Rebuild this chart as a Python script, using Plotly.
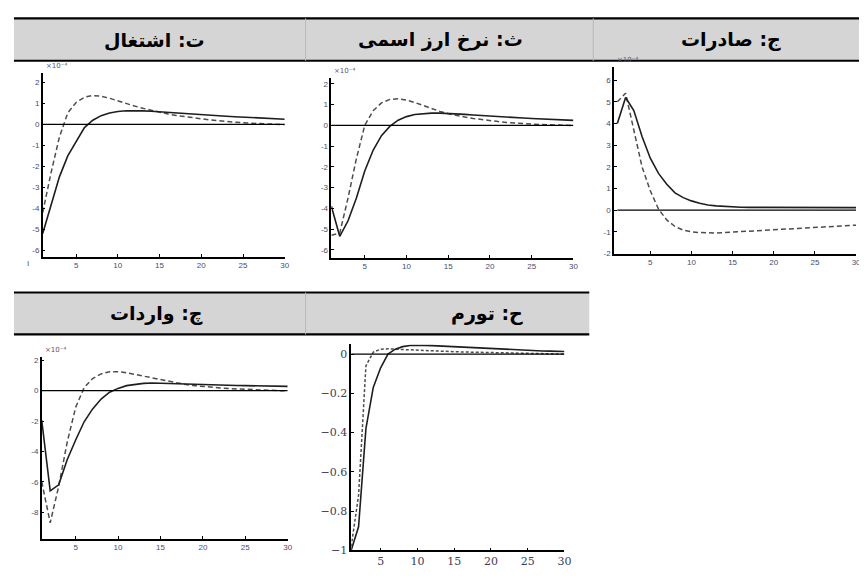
import plotly.graph_objects as go

W, H = 867, 576

# ---------------- data ----------------
periods = list(range(1, 31))

# ت: اشتغال (employment), x10^-4
emp_solid = [-5.2, -3.8, -2.5, -1.5, -0.85, -0.15, 0.2, 0.42, 0.55, 0.62, 0.65, 0.66, 0.65, 0.63, 0.6,
             0.57, 0.54, 0.51, 0.48, 0.46, 0.43, 0.41, 0.39, 0.37, 0.35, 0.33, 0.31, 0.29, 0.27, 0.25]
emp_dash = [-4.2, -2.3, -0.6, 0.55, 1.05, 1.3, 1.38, 1.35, 1.25, 1.12, 1.0, 0.88, 0.77, 0.67, 0.58,
            0.5, 0.43, 0.37, 0.32, 0.27, 0.22, 0.18, 0.14, 0.11, 0.08, 0.06, 0.04, 0.02, 0.0, -0.01]

# ث: نرخ ارز اسمی (nominal exchange rate), x10^-4
fx_solid = [-3.9, -5.35, -4.6, -3.5, -2.2, -1.2, -0.5, -0.05, 0.25, 0.42, 0.52, 0.57, 0.59, 0.59, 0.58,
            0.56, 0.53, 0.5, 0.47, 0.44, 0.42, 0.39, 0.37, 0.35, 0.33, 0.31, 0.29, 0.27, 0.25, 0.24]
fx_dash = [-5.3, -5.2, -3.5, -1.6, 0.0, 0.7, 1.08, 1.25, 1.28, 1.22, 1.1, 0.95, 0.8, 0.67, 0.56,
           0.47, 0.4, 0.33, 0.27, 0.22, 0.18, 0.14, 0.11, 0.08, 0.06, 0.04, 0.03, 0.01, 0.0, -0.01]

# ج: صادرات (exports), x10^-4
exp_solid = [4.0, 5.2, 4.6, 3.4, 2.4, 1.7, 1.2, 0.8, 0.58, 0.43, 0.32, 0.24, 0.2, 0.17, 0.15,
             0.14, 0.13, 0.13, 0.12, 0.12, 0.12, 0.12, 0.12, 0.12, 0.12, 0.12, 0.12, 0.12, 0.12, 0.12]
exp_dash = [5.0, 5.4, 3.7, 2.0, 0.9, 0.05, -0.45, -0.75, -0.92, -1.0, -1.03, -1.05, -1.05, -1.03, -1.01,
            -0.99, -0.97, -0.95, -0.93, -0.91, -0.89, -0.87, -0.85, -0.83, -0.81, -0.79, -0.77, -0.75, -0.72, -0.69]

# چ: واردات (imports), x10^-4
imp_solid = [-1.95, -6.6, -6.2, -4.55, -3.25, -2.05, -1.2, -0.55, -0.1, 0.15, 0.33, 0.42, 0.48, 0.5, 0.48,
             0.47, 0.45, 0.43, 0.41, 0.38, 0.37, 0.36, 0.35, 0.34, 0.33, 0.32, 0.31, 0.3, 0.29, 0.28]
imp_dash = [-6.0, -8.7, -6.3, -3.4, -1.1, 0.2, 0.8, 1.1, 1.25, 1.25, 1.18, 1.07, 0.95, 0.82, 0.7,
            0.58, 0.48, 0.4, 0.33, 0.27, 0.22, 0.18, 0.14, 0.11, 0.08, 0.06, 0.04, 0.02, 0.0, -0.02]

# ح: تورم (inflation)
inf_solid = [-1.0, -0.88, -0.38, -0.17, -0.07, 0.0, 0.025, 0.038, 0.044, 0.045, 0.044, 0.043, 0.041, 0.039, 0.037,
             0.035, 0.033, 0.031, 0.029, 0.027, 0.025, 0.023, 0.022, 0.02, 0.019, 0.017, 0.016, 0.015, 0.014, 0.013]
inf_dash = [-0.98, -0.72, -0.06, 0.01, 0.025, 0.027, 0.025, 0.023, 0.021, 0.019, 0.017, 0.016, 0.014, 0.013, 0.012,
            0.011, 0.01, 0.009, 0.008, 0.007, 0.006, 0.005, 0.004, 0.004, 0.003, 0.002, 0.002, 0.001, 0.0, 0.0]

titles = ["ت: اشتغال", "ث: نرخ ارز اسمی", "ج: صادرات", "چ: واردات", "ح: تورم"]

x_ticks = [5, 10, 15, 20, 25, 30]
y_ticks_emp = [-6, -5, -4, -3, -2, -1, 0, 1, 2]
y_ticks_exp = [-2, -1, 0, 1, 2, 3, 4, 5, 6]
y_ticks_imp = [-8, -6, -4, -2, 0, 2]
y_ticks_inf = [-1, -0.8, -0.6, -0.4, -0.2, 0]
y_ticktext_inf = ["−1", "−0.8", "−0.6", "−0.4", "−0.2", "0"]

# ---------------- layout helpers ----------------
def fx(p):
    return p / W

def fy(p):
    return 1 - p / H

panels = [
    # (solid, dash, x px left,right, y px top,bottom, yrange, yticks, xrange, latex-style)
    (emp_solid, emp_dash, 35, 279, 65, 251, [-6.3, 2.45], y_ticks_emp, [1, 30], False),
    (fx_solid, fx_dash, 326, 570, 70, 252, [-6.37, 2.28], y_ticks_emp, [1, 30], False),
    (exp_solid, exp_dash, 611, 855, 59, 248, [-2, 6.6], y_ticks_exp, [0.6, 30], False),
    (imp_solid, imp_dash, 34, 282, 353, 537, [-9.74, 2.21], y_ticks_imp, [1, 30], False),
    (inf_solid, inf_dash, 346, 561, 340, 549, [-1, 0.05], y_ticks_inf, [1, 30], True),
]

fig = go.Figure()
layout = dict(
    width=W, height=H,
    margin=dict(l=0, r=0, t=0, b=0),
    paper_bgcolor="white", plot_bgcolor="rgba(0,0,0,0)",
    showlegend=False,
)
shapes = []
annotations = []

matlab_font = dict(family="Liberation Sans", size=8, color="#4a4a6e")
latex_font = dict(family="DejaVu Serif", size=11, color="#3c3c5c")

for i, (ys, yd, xl, xr, yt, yb, yr, yticks, xr_rng, latex) in enumerate(panels):
    n = i + 1
    xa = "x" if n == 1 else f"x{n}"
    ya = "y" if n == 1 else f"y{n}"
    xkey = "xaxis" if n == 1 else f"xaxis{n}"
    ykey = "yaxis" if n == 1 else f"yaxis{n}"

    if latex:
        ytext = y_ticktext_inf
        font = latex_font
        dash = "3px,2px"
    else:
        ytext = [str(v) for v in yticks]
        font = matlab_font
        dash = "5px,3px"

    fig.add_trace(go.Scatter(x=periods, y=yd, mode="lines", xaxis=xa, yaxis=ya,
                             line=dict(color="#4d4d4d", width=1.5, dash=dash)))
    fig.add_trace(go.Scatter(x=periods, y=ys, mode="lines", xaxis=xa, yaxis=ya,
                             line=dict(color="#1e1e1e", width=1.6)))

    layout[xkey] = dict(
        domain=[fx(xl), fx(xr)], anchor=ya, range=xr_rng,
        tickvals=x_ticks, ticktext=[str(v) for v in x_ticks],
        showline=True, linecolor="black", linewidth=1.5,
        ticks="inside", ticklen=3, tickcolor="black", tickwidth=1,
        showgrid=False, zeroline=False, tickfont=font, fixedrange=True,
    )
    layout[ykey] = dict(
        domain=[fy(yb), fy(yt)], anchor=xa, range=yr,
        tickvals=yticks, ticktext=ytext,
        showline=True, linecolor="black", linewidth=1.5,
        ticks="inside", ticklen=3, tickcolor="black", tickwidth=1,
        showgrid=False, zeroline=False, tickfont=font, fixedrange=True,
    )
    # horizontal zero reference line
    shapes.append(dict(type="line", xref=xa, yref=ya, x0=1, x1=30, y0=0, y1=0,
                       line=dict(color="black", width=1.2)))
    if not latex:
        annotations.append(dict(xref="paper", yref="paper", x=fx(xl + 1), y=fy(yt - 1),
                                xanchor="left", yanchor="bottom", showarrow=False,
                                text="×10⁻⁴", font=dict(family="DejaVu Sans", size=7, color="#555577")))

# ---------------- header bands ----------------
grey = "#d5d5d5"
for (x0, x1, y0, y1) in [(6, 867, 9.5, 52.5), (6, 586, 287.5, 330)]:
    shapes.append(dict(type="rect", xref="paper", yref="paper", x0=fx(x0), x1=fx(x1), y0=fy(y1), y1=fy(y0),
                       fillcolor=grey, line=dict(width=0), layer="below"))
    for yy in (y0, y1):
        shapes.append(dict(type="line", xref="paper", yref="paper", x0=fx(x0), x1=fx(x1), y0=fy(yy), y1=fy(yy),
                           line=dict(color="black", width=2.2)))
# faint column dividers in headers
for (xx, y0, y1) in [(300, 9.5, 52.5), (590, 9.5, 52.5), (300, 287.5, 330)]:
    shapes.append(dict(type="line", xref="paper", yref="paper", x0=fx(xx), x1=fx(xx), y0=fy(y0), y1=fy(y1),
                       line=dict(color="#b8b8b8", width=1)))

title_pos = [(201, 31), (521, 31), (781, 31), (199, 309), (521, 309)]
for txt, (xp, yp) in zip(titles, title_pos):
    annotations.append(dict(xref="paper", yref="paper", x=fx(xp), y=fy(yp), xanchor="right", yanchor="middle",
                            showarrow=False, text=f"<b>{txt}</b>",
                            font=dict(family="DejaVu Sans", size=19, color="black")))

# small stray mark from the source scan
annotations.append(dict(xref="paper", yref="paper", x=fx(20), y=fy(258), xanchor="center", yanchor="middle",
                        showarrow=False, text="I", font=dict(family="Liberation Sans", size=8, color="#4a4a6e")))

layout["shapes"] = shapes
layout["annotations"] = annotations
fig.update_layout(**layout)
fig.write_html("out.html")
